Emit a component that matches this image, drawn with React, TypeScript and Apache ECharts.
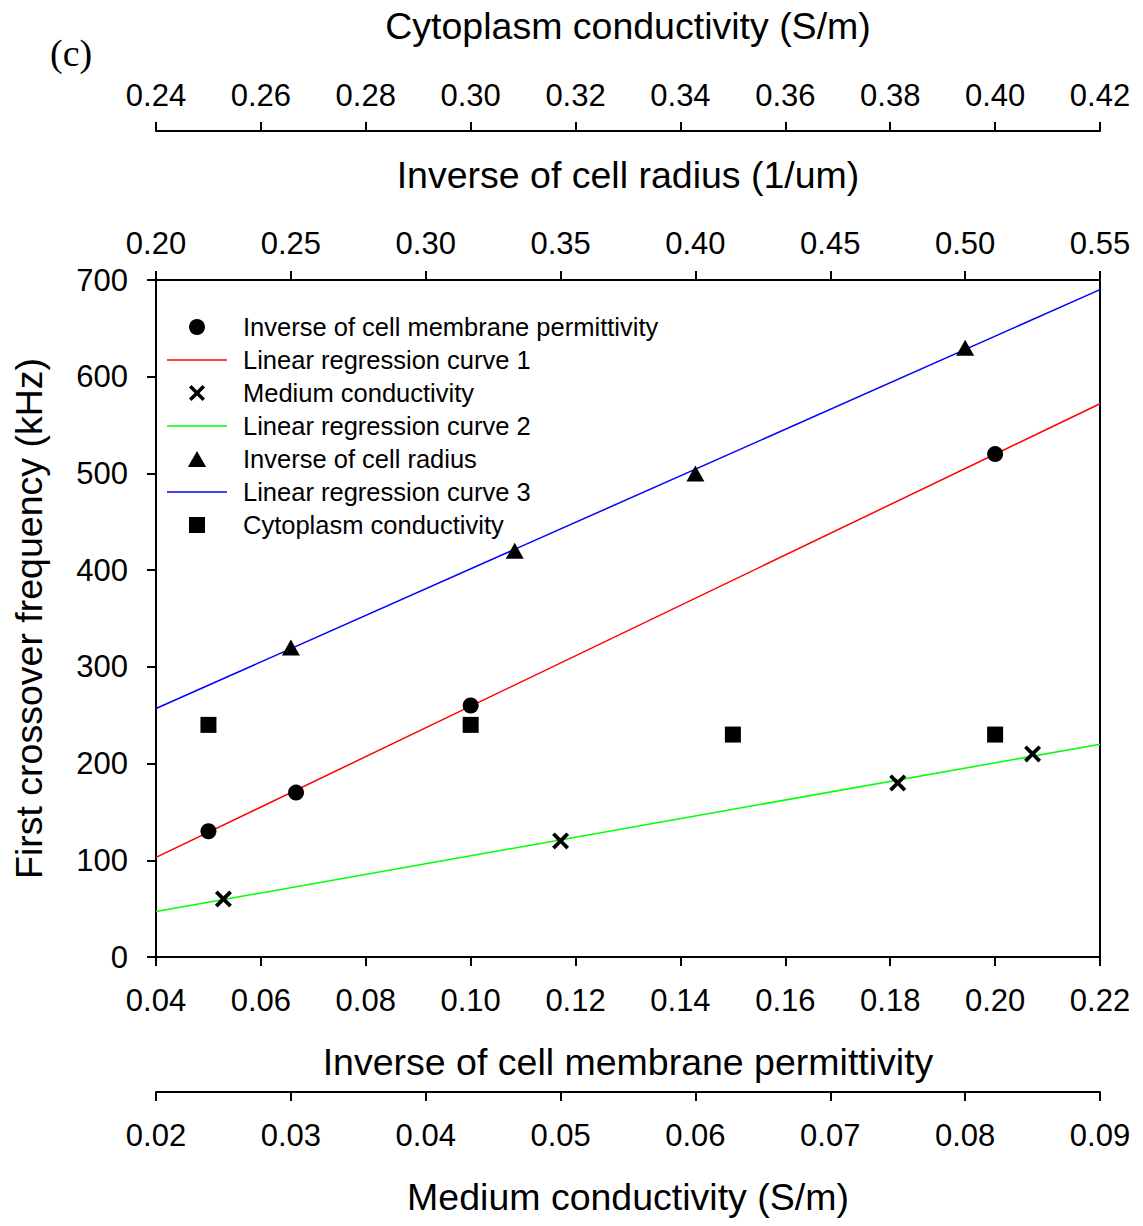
import React, { useEffect, useRef } from "react";
import * as echarts from "echarts";

// ---- Data ----
const membranePermX = [0.05, 0.0667, 0.1, 0.2];
const membranePermY = [130, 170, 260, 520];
const reg1X = [0.04, 0.22];
const reg1Y = [103, 572];

const mediumCondX = [0.025, 0.05, 0.075, 0.085];
const mediumCondY = [60, 120, 180, 210];
const reg2X = [0.02, 0.09];
const reg2Y = [47, 220];

const radiusInvX = [0.25, 0.333, 0.4, 0.5];
const radiusInvY = [320, 420, 500, 630];
const reg3X = [0.2, 0.55];
const reg3Y = [257, 690];

const cytoCondX = [0.25, 0.3, 0.35, 0.4];
const cytoCondY = [240, 240, 230, 230];

const seriesNames = [
  "Inverse of cell membrane permittivity",
  "Linear regression curve 1",
  "Medium conductivity",
  "Linear regression curve 2",
  "Inverse of cell radius",
  "Linear regression curve 3",
  "Cytoplasm conductivity",
];

const axisTitles = {
  bottom1: "Inverse of cell membrane permittivity",
  bottom2: "Medium conductivity (S/m)",
  top1: "Inverse of cell radius (1/um)",
  top2: "Cytoplasm conductivity (S/m)",
  y: "First crossover frequency (kHz)",
};

const zip = (xs: number[], ys: number[]) => xs.map((x, i) => [x, ys[i]]);

const FONT = "Liberation Sans, Arial, sans-serif";
const CROSS =
  "path://M2.5,0L8,5.5L13.5,0L16,2.5L10.5,8L16,13.5L13.5,16L8,10.5L2.5,16L0,13.5L5.5,8L0,2.5Z";
const LINE_ICON = "path://M0,0L60,0L60,1.5L0,1.5Z";
const TRI_ICON = "path://M8,0L16,14L0,14Z";
const SQ_ICON = "path://M0,0L15,0L15,15L0,15Z";

const legendIcons = ["circle", LINE_ICON, CROSS, LINE_ICON, TRI_ICON, LINE_ICON, SQ_ICON];

export default function App() {
  const ref = useRef<HTMLDivElement>(null);

  useEffect(() => {
    if (!ref.current) return;
    const chart = echarts.init(ref.current, undefined, { renderer: "svg" });

    const axisLine = { show: true, onZero: false, lineStyle: { color: "#000", width: 2 } };
    const axisTick = { show: true, length: 9, lineStyle: { color: "#000", width: 2 } };
    const labelBase = { color: "#000", fontSize: 31, fontFamily: FONT };
    const nameStyle = { color: "#000", fontSize: 37.5, fontFamily: FONT };

    const mkX = (
      position: "top" | "bottom",
      offset: number,
      min: number,
      max: number,
      interval: number,
      name: string,
      margin: number
    ) => ({
      type: "value",
      position,
      offset,
      min,
      max,
      interval,
      name,
      nameLocation: "middle",
      nameGap: 86,
      nameTextStyle: nameStyle,
      axisLine,
      axisTick,
      splitLine: { show: false },
      axisLabel: {
        ...labelBase,
        margin,
        formatter: (v: number) => v.toFixed(2),
      },
    });

    const option: any = {
      animation: false,
      backgroundColor: "#fff",
      title: {
        text: "(c)",
        left: 45,
        top: 29,
        textStyle: {
          fontFamily: "Liberation Serif, Times New Roman, serif",
          fontWeight: "normal",
          fontSize: 38,
          color: "#000",
        },
      },
      grid: { left: 156, right: 43, top: 280, bottom: 269, containLabel: false },
      xAxis: [
        mkX("bottom", 0, 0.04, 0.22, 0.02, axisTitles.bottom1, 28),
        mkX("bottom", 135, 0.02, 0.09, 0.01, axisTitles.bottom2, 28),
        mkX("top", 0, 0.2, 0.55, 0.05, axisTitles.top1, 21),
        mkX("top", 149, 0.24, 0.42, 0.02, axisTitles.top2, 20),
      ],
      yAxis: [
        {
          type: "value",
          min: 0,
          max: 700,
          interval: 100,
          name: axisTitles.y,
          nameLocation: "middle",
          nameGap: 108,
          nameTextStyle: nameStyle,
          axisLine,
          axisTick,
          splitLine: { show: false },
          axisLabel: { ...labelBase, margin: 28 },
        },
        {
          type: "value",
          position: "right",
          min: 0,
          max: 700,
          interval: 100,
          axisLine,
          axisTick: { show: false },
          axisLabel: { show: false },
          splitLine: { show: false },
        },
      ],
      legend: {
        orient: "vertical",
        left: 162,
        top: 309,
        itemWidth: 60,
        itemHeight: 16,
        itemGap: 7,
        symbolKeepAspect: true,
        data: seriesNames.map((n, i) => ({ name: n, icon: legendIcons[i] })),
        textStyle: {
          color: "#000",
          fontSize: 25.5,
          fontFamily: FONT,
          rich: { t: { fontSize: 25.5, fontFamily: FONT, color: "#000", padding: [0, 0, 0, 11] } },
        },
        formatter: (n: string) => `{t|${n}}`,
      },
      series: [
        {
          name: seriesNames[0],
          type: "scatter",
          xAxisIndex: 0,
          data: zip(membranePermX, membranePermY),
          symbol: "circle",
          symbolSize: 16,
          itemStyle: { color: "#000", opacity: 1 },
          z: 5,
        },
        {
          name: seriesNames[1],
          type: "line",
          xAxisIndex: 0,
          data: zip(reg1X, reg1Y),
          showSymbol: false,
          symbol: "none",
          lineStyle: { color: "#ff0000", width: 1.5 },
          itemStyle: { color: "#ff0000" },
        },
        {
          name: seriesNames[2],
          type: "scatter",
          xAxisIndex: 1,
          data: zip(mediumCondX, mediumCondY),
          symbol: CROSS,
          symbolSize: 17,
          itemStyle: { color: "#000", opacity: 1 },
          z: 5,
        },
        {
          name: seriesNames[3],
          type: "line",
          xAxisIndex: 1,
          data: zip(reg2X, reg2Y),
          showSymbol: false,
          symbol: "none",
          lineStyle: { color: "#00ff00", width: 1.5 },
          itemStyle: { color: "#00ff00" },
        },
        {
          name: seriesNames[4],
          type: "scatter",
          xAxisIndex: 2,
          data: zip(radiusInvX, radiusInvY),
          symbol: "triangle",
          symbolSize: [18, 16],
          itemStyle: { color: "#000", opacity: 1 },
          z: 5,
        },
        {
          name: seriesNames[5],
          type: "line",
          xAxisIndex: 2,
          data: zip(reg3X, reg3Y),
          showSymbol: false,
          symbol: "none",
          lineStyle: { color: "#0000ff", width: 1.5 },
          itemStyle: { color: "#0000ff" },
        },
        {
          name: seriesNames[6],
          type: "scatter",
          xAxisIndex: 3,
          data: zip(cytoCondX, cytoCondY),
          symbol: "rect",
          symbolSize: 16,
          itemStyle: { color: "#000", opacity: 1 },
          z: 5,
        },
      ],
    };

    chart.setOption(option);
    return () => chart.dispose();
  }, []);

  return <div ref={ref} style={{ width: 1143, height: 1226, margin: -8 }} />;
}
